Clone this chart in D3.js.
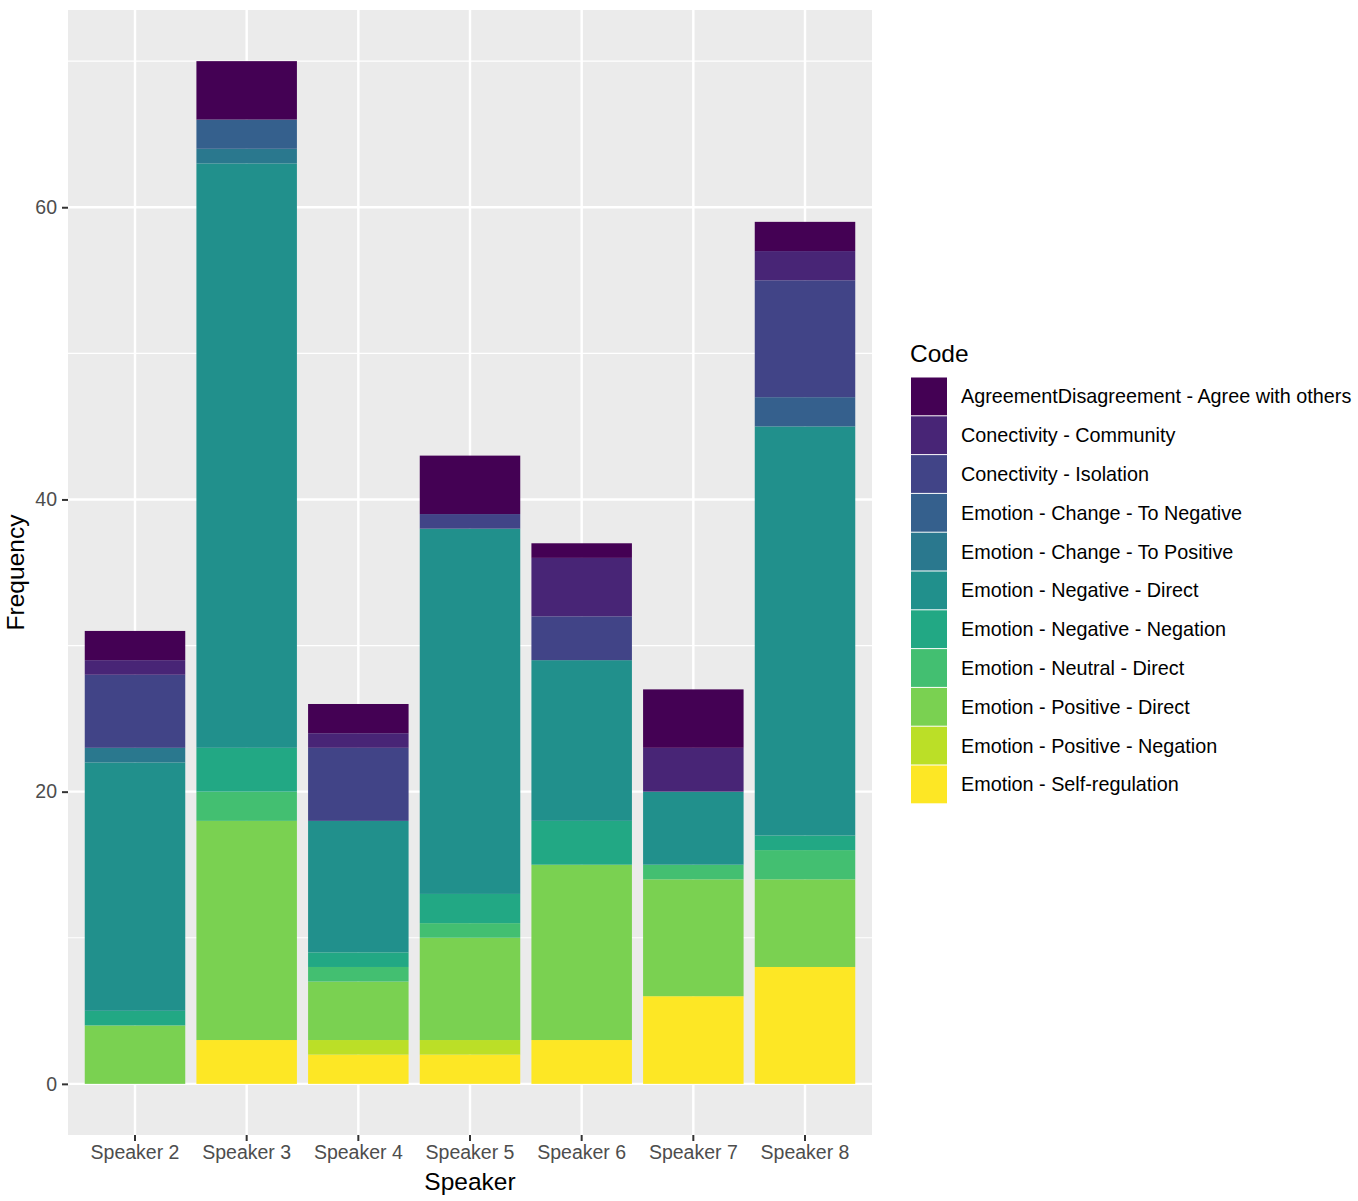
<!DOCTYPE html>
<html>
<head>
<meta charset="utf-8">
<script src="https://cdn.jsdelivr.net/npm/d3@7"></script>
<style>
  body { margin: 0; background: #fff; }
  svg text { font-family: "Liberation Sans", Arial, sans-serif; }
</style>
</head>
<body>
<div class="container"></div>
<script>
let speakers = ['Speaker 2', 'Speaker 3', 'Speaker 4', 'Speaker 5', 'Speaker 6', 'Speaker 7', 'Speaker 8']

// legend order (top of stack first)
let codes = [
    'AgreementDisagreement - Agree with others',
    'Conectivity - Community',
    'Conectivity - Isolation',
    'Emotion - Change - To Negative',
    'Emotion - Change - To Positive',
    'Emotion - Negative - Direct',
    'Emotion - Negative - Negation',
    'Emotion - Neutral - Direct',
    'Emotion - Positive - Direct',
    'Emotion - Positive - Negation',
    'Emotion - Self-regulation'
]

let colors = ['#440154', '#482576', '#414487', '#35608D', '#2A788E', '#21908C',
    '#22A884', '#43BF71', '#7AD151', '#BBDF27', '#FDE725']

// counts per speaker, in the order of codes
let agree      = [2, 4, 2, 4, 1, 4, 2]
let community  = [1, 0, 1, 0, 4, 3, 2]
let isolation  = [5, 0, 5, 1, 3, 0, 8]
let toNegative = [0, 2, 0, 0, 0, 0, 2]
let toPositive = [1, 1, 0, 0, 0, 0, 0]
let negDirect  = [17, 40, 9, 25, 11, 5, 28]
let negNegation = [1, 3, 1, 2, 3, 0, 1]
let neuDirect  = [0, 2, 1, 1, 0, 1, 2]
let posDirect  = [4, 15, 4, 7, 12, 8, 6]
let posNegation = [0, 0, 1, 1, 0, 0, 0]
let selfReg    = [0, 3, 2, 2, 3, 6, 8]

let yTicks = [0, 20, 40, 60]
let yMinor = [10, 30, 50, 70]

let series = [agree, community, isolation, toNegative, toPositive, negDirect,
    negNegation, neuDirect, posDirect, posNegation, selfReg]

let rows = speakers.map((s, i) => {
    let row = { speaker: s }
    codes.forEach((c, j) => { row[c] = series[j][i] })
    return row
})

let width = 1358
let height = 1201
let panel = { left: 68, right: 872, top: 10, bottom: 1135 }

let color = d3.scaleOrdinal().domain(codes).range(colors)

// ggplot stacks the first level on top, so stack bottom-up in reverse
let stack = d3.stack().keys(codes.slice().reverse())
let layers = stack(rows)

let maxTotal = d3.max(layers[layers.length - 1], d => d[1])

let xScale = d3.scaleBand()
    .domain(speakers)
    .range([panel.left, panel.right])
    .paddingInner(0.1)
    .paddingOuter(0.1 / 2 + 0.6 - 0.5)

let yScale = d3.scaleLinear()
    .domain([-maxTotal * 0.05, maxTotal * 1.05])
    .range([panel.bottom, panel.top])

let svg = d3.select('.container')
    .append('svg')
    .attr('width', width)
    .attr('height', height)

svg.append('rect')
    .attr('x', panel.left)
    .attr('y', panel.top)
    .attr('width', panel.right - panel.left)
    .attr('height', panel.bottom - panel.top)
    .attr('fill', '#EBEBEB')

// gridlines
svg.append('g')
    .selectAll('line')
    .data(yMinor)
    .enter()
    .append('line')
    .attr('x1', panel.left)
    .attr('x2', panel.right)
    .attr('y1', d => yScale(d))
    .attr('y2', d => yScale(d))
    .attr('stroke', '#fff')
    .attr('stroke-width', 1.2)

svg.append('g')
    .selectAll('line')
    .data(yTicks)
    .enter()
    .append('line')
    .attr('x1', panel.left)
    .attr('x2', panel.right)
    .attr('y1', d => yScale(d))
    .attr('y2', d => yScale(d))
    .attr('stroke', '#fff')
    .attr('stroke-width', 2.4)

svg.append('g')
    .selectAll('line')
    .data(speakers)
    .enter()
    .append('line')
    .attr('x1', d => xScale(d) + xScale.bandwidth() / 2)
    .attr('x2', d => xScale(d) + xScale.bandwidth() / 2)
    .attr('y1', panel.top)
    .attr('y2', panel.bottom)
    .attr('stroke', '#fff')
    .attr('stroke-width', 2.4)

// bars
svg.append('g')
    .selectAll('g')
    .data(layers)
    .enter()
    .append('g')
    .attr('fill', d => color(d.key))
    .selectAll('rect')
    .data(d => d.filter(p => p[1] > p[0]))
    .enter()
    .append('rect')
    .attr('x', d => xScale(d.data.speaker))
    .attr('y', d => yScale(d[1]))
    .attr('width', xScale.bandwidth())
    .attr('height', d => yScale(d[0]) - yScale(d[1]))

// axes
let xAxis = d3.axisBottom(xScale).tickSize(6).tickPadding(4)
let yAxis = d3.axisLeft(yScale).tickValues(yTicks).tickSize(6).tickPadding(5)

let gx = svg.append('g')
    .attr('transform', `translate(0,${panel.bottom})`)
    .call(xAxis)
gx.select('.domain').remove()
gx.selectAll('line').attr('stroke', '#333').attr('stroke-width', 2)
gx.selectAll('text').attr('fill', '#4D4D4D').style('font-size', '19.5px')

let gy = svg.append('g')
    .attr('transform', `translate(${panel.left},0)`)
    .call(yAxis)
gy.select('.domain').remove()
gy.selectAll('line').attr('stroke', '#333').attr('stroke-width', 2)
gy.selectAll('text').attr('fill', '#4D4D4D').style('font-size', '19.5px')

svg.append('text')
    .attr('x', (panel.left + panel.right) / 2)
    .attr('y', 1190)
    .attr('text-anchor', 'middle')
    .style('font-size', '24.5px')
    .text('Speaker')

svg.append('text')
    .attr('transform', `translate(24,${(panel.top + panel.bottom) / 2}) rotate(-90)`)
    .attr('text-anchor', 'middle')
    .style('font-size', '24.5px')
    .text('Frequency')

// legend
let legend = svg.append('g')
    .attr('transform', 'translate(910,0)')

legend.append('text')
    .attr('x', 0)
    .attr('y', 362)
    .style('font-size', '24.5px')
    .text('Code')

let keyStep = 38.8
let items = legend.selectAll('g.key')
    .data(codes)
    .enter()
    .append('g')
    .attr('class', 'key')
    .attr('transform', (d, i) => `translate(0,${377 + i * keyStep})`)

items.append('rect')
    .attr('x', 1)
    .attr('y', 0.5)
    .attr('width', 36)
    .attr('height', keyStep - 1)
    .attr('fill', d => color(d))

items.append('text')
    .attr('x', 51)
    .attr('y', keyStep / 2 + 7)
    .style('font-size', '19.8px')
    .text(d => d)
</script>
</body>
</html>
